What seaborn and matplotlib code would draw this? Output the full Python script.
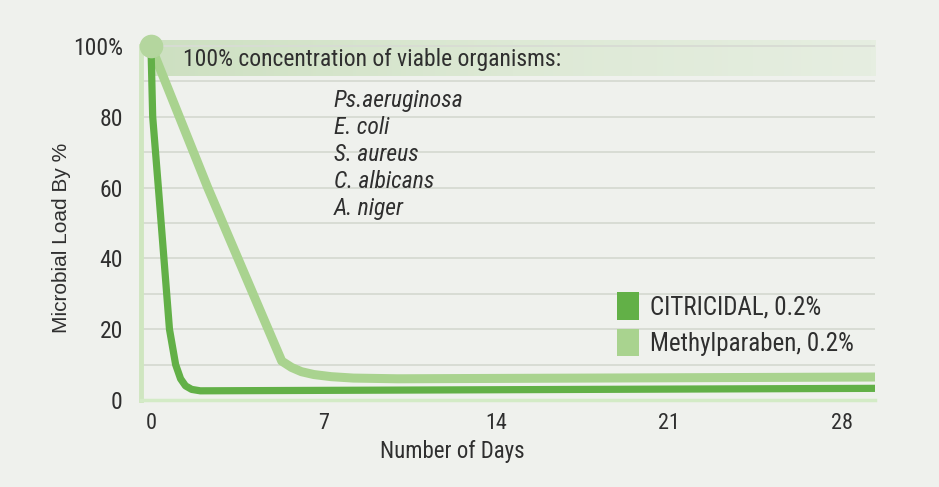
import matplotlib
matplotlib.use('Agg')
import matplotlib.pyplot as plt
import numpy as np
import pandas as pd
import seaborn as sns
from matplotlib.patches import Patch
from matplotlib.colors import LinearSegmentedColormap

# data
days_citricidal = [0.0, 0.07, 0.3, 0.75, 1.0, 1.2, 1.4, 1.65, 2.0, 29.4]
load_citricidal = [100, 80, 60, 20, 10, 6, 4, 3, 2.6, 3.3]
days_methyl = [0.0, 2.3, 5.3, 5.7, 6.1, 6.6, 7.3, 8.2, 10.0, 29.4]
load_methyl = [100, 60, 11, 9.2, 8.0, 7.2, 6.6, 6.2, 6.0, 6.5]
x_ticks = [0, 7, 14, 21, 28]
y_ticks = [0, 20, 40, 60, 80, 100]
y_ticklabels = ['0', '20', '40', '60', '80', '100%']
organisms = ['Ps.aeruginosa', 'E. coli', 'S. aureus', 'C. albicans', 'A. niger']

df_c = pd.DataFrame({'day': days_citricidal, 'load': load_citricidal})
df_m = pd.DataFrame({'day': days_methyl, 'load': load_methyl})

bg = '#eff1ed'
dark = '#62b047'
light = '#a9d38f'
txt = '#2f2f2f'

sns.set_theme(style='white')
plt.rcParams['font.family'] = ['Roboto Condensed', 'Archivo Narrow', 'DejaVu Sans']

fig = plt.figure(figsize=(9.39, 4.87), dpi=100, facecolor=bg)
ax = fig.add_axes([0.150, 0.1786, 0.782, 0.7414])
ax.set_facecolor(bg)

xlim = (-0.41, 29.35)

# header band (fades to the right) and grid
band_cmap = LinearSegmentedColormap.from_list('band', ['#cde0c1', '#dde9d5', '#e6eee1'])
ax.imshow(np.linspace(0, 1, 200)[None, :], cmap=band_cmap, aspect='auto',
          extent=[0.0, xlim[1], 91.5, 101.5], zorder=0, interpolation='bicubic')
for yv in range(10, 101, 10):
    ax.axhline(yv, color='#d8dcd4', lw=1.4, zorder=0.5)

sns.lineplot(data=df_m, x='day', y='load', ax=ax, color=light, lw=6.5,
             solid_capstyle='butt', solid_joinstyle='round', zorder=3)
sns.lineplot(data=df_c, x='day', y='load', ax=ax, color=dark, lw=5.2,
             solid_capstyle='butt', solid_joinstyle='round', zorder=4)
ax.plot([days_methyl[0]], [load_methyl[0]], 'o', ms=16, color='#b4d69e',
        clip_on=False, zorder=5)

ax.set_xlim(*xlim)
ax.set_ylim(0, 102)

for s in ['top', 'right']:
    ax.spines[s].set_visible(False)
ax.spines['left'].set_color('#cfe6c0')
ax.spines['left'].set_linewidth(3.5)
ax.spines['left'].set_bounds(0, 100)
ax.spines['bottom'].set_color('#d3ebc6')
ax.spines['bottom'].set_linewidth(2.5)

ax.set_xticks(x_ticks)
ax.set_xticklabels([str(t) for t in x_ticks], fontsize=16, color=txt)
ax.set_yticks(y_ticks)
ax.set_yticklabels(y_ticklabels, fontsize=17, color=txt)
ax.tick_params(axis='both', length=0, pad=9)
ax.tick_params(axis='y', pad=13)

ax.set_xlabel('Number of Days', fontsize=16.5, color=txt)
ax.xaxis.set_label_coords(0.424, -0.111)
ax.set_ylabel('Microbial Load By %', fontsize=15, color=txt,
              family=['Liberation Sans', 'DejaVu Sans'])
ax.yaxis.set_label_coords(-0.095, 0.45)

ax.text(1.3, 96.3, '100% concentration of viable organisms:', fontsize=17,
        color=txt, va='center', ha='left')
for i, name in enumerate(organisms):
    ax.text(7.4, 84.6 - i * 7.6, name, fontsize=17, style='italic',
            color=txt, va='center', ha='left')

handles = [Patch(facecolor=dark, edgecolor='none', label='CITRICIDAL, 0.2%'),
           Patch(facecolor=light, edgecolor='none', label='Methylparaben, 0.2%')]
leg = ax.legend(handles=handles, loc='upper left', bbox_to_anchor=(0.648, 0.298),
                frameon=False, fontsize=18, handlelength=0.9, handleheight=1.3,
                handletextpad=0.42, labelspacing=0.38, borderaxespad=0,
                borderpad=0)
for t in leg.get_texts():
    t.set_color(txt)

plt.savefig('out.png', dpi=100, facecolor=bg)
plt.close()
